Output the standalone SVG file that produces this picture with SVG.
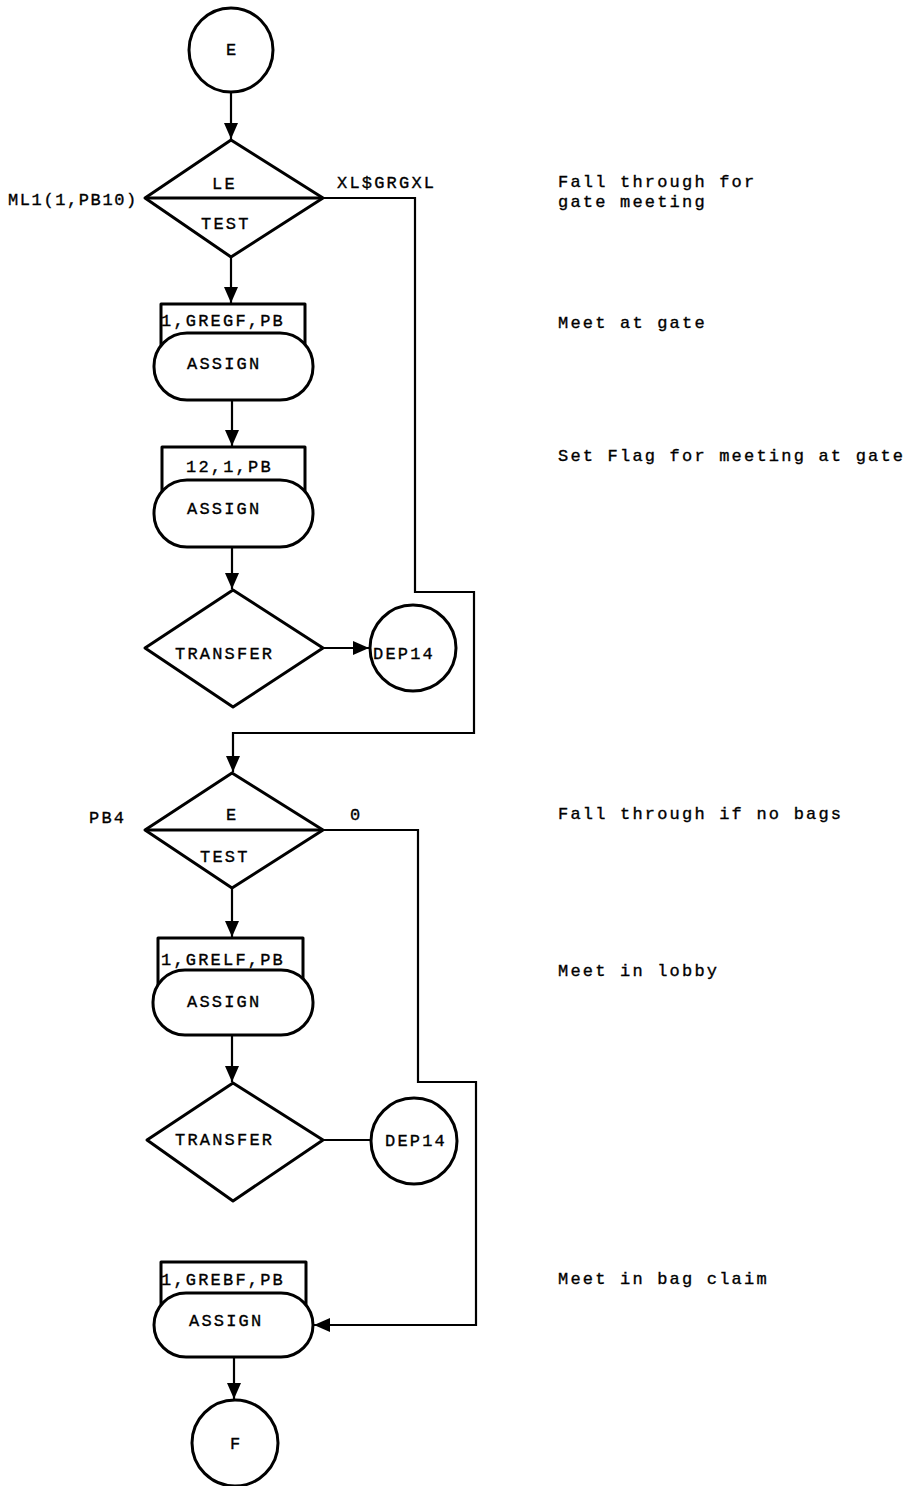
<svg xmlns="http://www.w3.org/2000/svg" width="923" height="1486" viewBox="0 0 923 1486">
<style>
.shape{fill:#fff;stroke:#000;stroke-width:3;stroke-linejoin:round}
.conn{fill:none;stroke:#000;stroke-width:2.2}
text{font-family:"Liberation Mono","Courier New",monospace;font-size:17px;letter-spacing:2.2px;fill:#000;stroke:#000;stroke-width:0.35}
</style>
<defs>
<marker id="arr" markerUnits="userSpaceOnUse" markerWidth="18" markerHeight="14" refX="16" refY="7" orient="auto">
<path d="M0,0 L16,7 L0,14 Z" fill="#000"/>
</marker>
</defs>
<rect width="923" height="1486" fill="#fff"/>
<g id="connectors">
<path class="conn" d="M231,92 V139" marker-end="url(#arr)"/>
<path class="conn" d="M231,257 V303" marker-end="url(#arr)"/>
<path class="conn" d="M232,400 V446" marker-end="url(#arr)"/>
<path class="conn" d="M232,547 V589" marker-end="url(#arr)"/>
<path class="conn" d="M323,648 H369" marker-end="url(#arr)"/>
<path class="conn" d="M323,198 H415 V592 H474 V733 H233 V772" marker-end="url(#arr)"/>
<path class="conn" d="M232,888 V937" marker-end="url(#arr)"/>
<path class="conn" d="M232,1035 V1082" marker-end="url(#arr)"/>
<path class="conn" d="M323,1140 H371"/>
<path class="conn" d="M323,830 H418 V1082 H476 V1325 H314" marker-end="url(#arr)"/>
<path class="conn" d="M234,1357 V1399" marker-end="url(#arr)"/>
</g>
<g id="startE">
<circle class="shape" cx="231" cy="50" r="42"/>
<text x="226" y="55">E</text>
</g>
<g id="test1">
<polygon class="shape" points="231,140 323,198 231,257 145,198"/>
<line x1="145" y1="198" x2="323" y2="198" stroke="#000" stroke-width="3"/>
<text x="212" y="189">LE</text>
<text x="201" y="229">TEST</text>
<text x="8" y="205" style="letter-spacing:1.6px">ML1(1,PB10)</text>
<text x="337" y="188">XL$GRGXL</text>
</g>
<g id="assign1">
<rect class="shape" x="161" y="304" width="144" height="50"/>
<rect class="shape" x="154" y="333" width="159" height="67" rx="33" ry="33"/>
<text x="161" y="326">1,GREGF,PB</text>
<text x="187" y="369">ASSIGN</text>
</g>
<g id="assign2">
<rect class="shape" x="162" y="447" width="143" height="50"/>
<rect class="shape" x="154" y="480" width="159" height="67" rx="33" ry="33"/>
<text x="186" y="472">12,1,PB</text>
<text x="187" y="514">ASSIGN</text>
</g>
<g id="transfer1">
<polygon class="shape" points="233,590 323,648 233,707 145,648"/>
<text x="175" y="659">TRANSFER</text>
</g>
<g id="dep14a">
<circle class="shape" cx="413" cy="648" r="43"/>
<text x="373" y="659">DEP14</text>
</g>
<g id="test2">
<polygon class="shape" points="232,773 323,830 232,888 145,830"/>
<line x1="145" y1="830" x2="323" y2="830" stroke="#000" stroke-width="3"/>
<text x="226" y="820">E</text>
<text x="200" y="862">TEST</text>
<text x="89" y="823">PB4</text>
<text x="350" y="820">0</text>
</g>
<g id="assign3">
<rect class="shape" x="158" y="938" width="145" height="50"/>
<rect class="shape" x="153" y="970" width="160" height="65" rx="32" ry="32"/>
<text x="161" y="965">1,GRELF,PB</text>
<text x="187" y="1007">ASSIGN</text>
</g>
<g id="transfer2">
<polygon class="shape" points="233,1083 323,1140 233,1201 147,1140"/>
<text x="175" y="1145">TRANSFER</text>
</g>
<g id="dep14b">
<circle class="shape" cx="414" cy="1141" r="43"/>
<text x="385" y="1146">DEP14</text>
</g>
<g id="assign4">
<rect class="shape" x="161" y="1262" width="145" height="50"/>
<rect class="shape" x="154" y="1293" width="159" height="64" rx="32" ry="32"/>
<text x="161" y="1285">1,GREBF,PB</text>
<text x="189" y="1326">ASSIGN</text>
</g>
<g id="endF">
<circle class="shape" cx="235" cy="1443" r="43"/>
<text x="230" y="1449">F</text>
</g>
<g id="notes">
<text x="558" y="187">Fall through for</text>
<text x="558" y="207">gate meeting</text>
<text x="558" y="328">Meet at gate</text>
<text x="558" y="461">Set Flag for meeting at gate</text>
<text x="558" y="819">Fall through if no bags</text>
<text x="558" y="976">Meet in lobby</text>
<text x="558" y="1284">Meet in bag claim</text>
</g>
</svg>
